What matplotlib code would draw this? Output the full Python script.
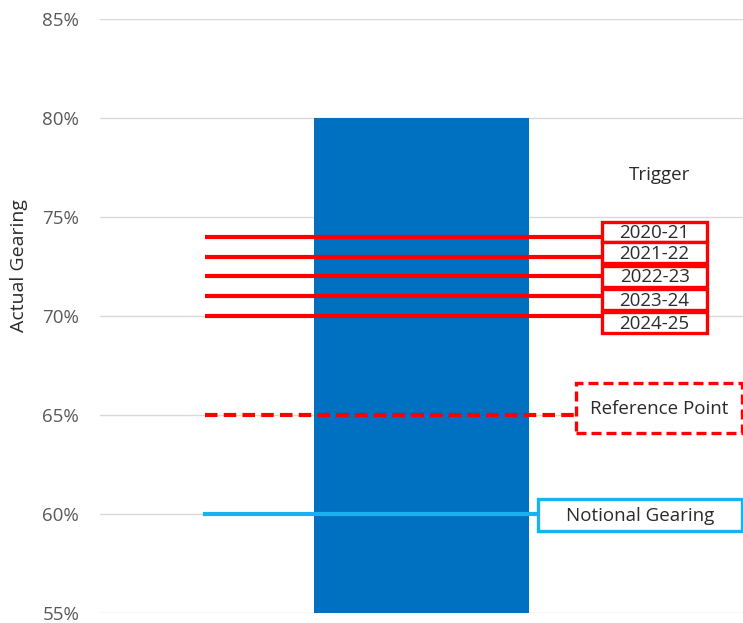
import matplotlib.pyplot as plt
from matplotlib.patches import Rectangle

plt.rcParams['font.family'] = ['Open Sans', 'DejaVu Sans']

# gearing levels (%)
bar_value = 80
trigger_years = ["2020-21", "2021-22", "2022-23", "2023-24", "2024-25"]
trigger_levels = [74, 73, 72, 71, 70]
reference_point = 65
notional_gearing = 60
yticks = [55, 60, 65, 70, 75, 80, 85]

RED = "#ff0000"
BLUE = "#0070c0"
LIGHT_BLUE = "#1ab2ee"
TXT = "#2b2b2b"

fig = plt.figure(figsize=(7.43, 6.23), dpi=100)
ax = fig.add_axes([100 / 743, 10 / 623, 643 / 743, 594 / 623])
ax.set_xlim(0, 1)
ax.set_ylim(55, 85)

ax.bar([0.5], [bar_value - 55], bottom=55, width=0.334, color=BLUE, zorder=2)


def label_box(xl, xr, yc, h, text, ec, ls="solid"):
    ax.add_patch(Rectangle((xl, yc - h / 2), xr - xl, h, fc="white", ec=ec, lw=2.4,
                           ls=ls, zorder=4, clip_on=False))
    ax.text((xl + xr) / 2, yc - 0.05, text, ha="center", va="center", fontsize=13.5,
            color=TXT, zorder=5)


x0 = 0.163
box_offsets = [0.24, 0.2, 0.0, -0.17, -0.33]
for yr, lvl, off in zip(trigger_years, trigger_levels, box_offsets):
    ax.plot([x0, 0.79], [lvl, lvl], color=RED, lw=3, zorder=3, solid_capstyle="butt")
    label_box(0.781, 0.944, lvl + off, 1.05, yr, RED)

ax.plot([x0, 0.74], [reference_point, reference_point], color=RED, lw=3,
        ls=(0, (3, 1.5)), zorder=3)
label_box(0.74, 0.998, reference_point + 0.35, 2.5, "Reference Point", RED, ls=(0, (3, 1.5)))

ax.plot([x0, 0.835], [notional_gearing, notional_gearing], color=LIGHT_BLUE, lw=3, zorder=3)
label_box(0.681, 0.998, notional_gearing - 0.05, 1.65, "Notional Gearing", LIGHT_BLUE)

ax.text(0.87, 77.1, "Trigger", ha="center", va="center", fontsize=13.5, color=TXT)

ax.set_yticks(yticks)
ax.set_yticklabels([f"{v}%" for v in yticks], fontsize=13.5, color="#595959")
ax.set_xticks([])
ax.tick_params(axis="y", length=0, pad=15)
ax.grid(axis="y", color="#d9d9d9", lw=1, zorder=0)
ax.set_axisbelow(True)
for s in ax.spines.values():
    s.set_visible(False)
ax.set_ylabel("Actual Gearing", fontsize=14, color=TXT)
ax.yaxis.set_label_coords(-0.112, 0.585)

fig.savefig("out.png", dpi=100)
